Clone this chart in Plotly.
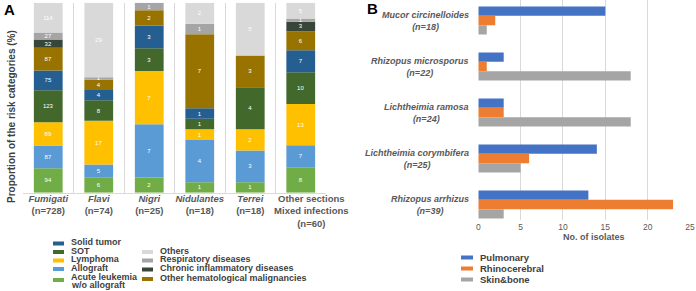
import plotly.graph_objects as go

# ---------------- DATA ----------------
# Panel A: Aspergillus sections and risk categories (counts)
sections = ["Fumigati", "Flavi", "Nigri", "Nidulantes", "Terrei", "Other sections"]
section_n = [728, 74, 25, 18, 18, 60]
section_ticks = [
    "<b><i>Fumigati</i></b><br><b>(n=728)</b>",
    "<b><i>Flavi</i></b><br><b>(n=74)</b>",
    "<b><i>Nigri</i></b><br><b>(n=25)</b>",
    "<b><i>Nidulantes</i></b><br><b>(n=18)</b>",
    "<b><i>Terrei</i></b><br><b>(n=18)</b>",
    "<b>Other sections<br>Mixed infections<br>(n=60)</b>",
]
# stacked bottom -> top
risk_names = [
    "Acute leukemia<br>w/o allograft", "Allograft", "Lymphoma", "SOT", "Solid tumor",
    "Other hematological malignancies", "Chronic inflammatory diseases",
    "Respiratory diseases", "Others",
]
acute_leukemia = [94, 6, 2, 1, 1, 8]
allograft = [87, 5, 7, 4, 3, 7]
lymphoma = [89, 17, 7, 1, 2, 13]
sot = [123, 8, 3, 1, 4, 10]
solid_tumor = [75, 4, 3, 1, 0, 7]
other_hemato = [87, 4, 2, 7, 3, 6]
chronic_inflam = [32, 0, 0, 0, 0, 3]
respiratory = [27, 1, 1, 1, 0, 1]
others = [114, 29, 0, 2, 5, 5]
risk_values = [acute_leukemia, allograft, lymphoma, sot, solid_tumor,
               other_hemato, chronic_inflam, respiratory, others]
risk_colors = ["#70AD47", "#5B9BD5", "#FFC000", "#43682B", "#255E91",
               "#997300", "#38463A", "#A5A5A5", "#D9D9D9"]

# Panel B: Mucorales species and infection sites
species = ["Mucor circinelloides", "Rhizopus microsporus", "Lichtheimia ramosa",
           "Lichtheimia corymbifera", "Rhizopus arrhizus"]
species_n = [18, 22, 24, 25, 39]
site_names = ["Pulmonary", "Rhinocerebral", "Skin&bone"]
pulmonary = [15, 3, 3, 14, 13]
rhinocerebral = [2, 1, 3, 6, 23]
skin_bone = [1, 18, 18, 5, 3]
site_values = [pulmonary, rhinocerebral, skin_bone]
site_colors = ["#4472C4", "#ED7D31", "#A5A5A5"]
b_ticks = [0, 5, 10, 15, 20, 25]

# ---------------- LAYOUT HELPERS ----------------
W, H = 696, 291
FONT = "Liberation Sans, Arial, sans-serif"
GRAY = "#595959"


def fx(p):
    return p / W


def fy(p):
    return 1 - p / H


# the multi-line last tick label sits a little right of its bar in the reference
PAD = "&nbsp;" * 8
tick_text = section_ticks[:-1] + [
    "<br>".join(PAD + line for line in section_ticks[-1].split("<br>"))
]

fig = go.Figure()

# Panel A: stacked percentage bars
cum = [0.0] * len(sections)
for name, vals, color in zip(risk_names, risk_values, risk_colors):
    pct = [v / n * 100 for v, n in zip(vals, section_n)]
    fig.add_trace(go.Bar(
        x=sections, y=pct, base=list(cum), name=name,
        marker=dict(color=color, line=dict(width=0)),
        width=0.57, offsetgroup="A",
        text=[str(v) if v > 0 else "" for v in vals],
        textposition="inside", insidetextanchor="middle", textangle=0,
        constraintext="none",
        textfont=dict(color="white", size=6, family=FONT),
        xaxis="x", yaxis="y", showlegend=False, hoverinfo="skip",
    ))
    cum = [c + p for c, p in zip(cum, pct)]

# Panel B: grouped horizontal bars
for name, vals, color in zip(site_names, site_values, site_colors):
    fig.add_trace(go.Bar(
        y=species, x=vals, name=name, orientation="h",
        marker=dict(color=color, line=dict(width=0)),
        xaxis="x2", yaxis="y2", showlegend=False, hoverinfo="skip",
    ))

annotations = []
shapes = []

# Panel letters
annotations.append(dict(x=fx(2), y=fy(10), xref="paper", yref="paper", xanchor="left",
                        yanchor="middle", showarrow=False,
                        text="<b>A</b>", font=dict(size=15, color="black", family=FONT)))
annotations.append(dict(x=fx(365), y=fy(8), xref="paper", yref="paper", xanchor="left",
                        yanchor="middle", showarrow=False,
                        text="<b>B</b>", font=dict(size=15, color="black", family=FONT)))

# Panel A y-axis title
annotations.append(dict(x=fx(11), y=fy(117), xref="paper", yref="paper", textangle=-90,
                        showarrow=False, xanchor="center", yanchor="middle",
                        text="<b>Proportion of the risk categories (%)</b>",
                        font=dict(size=10, color="#404040", family=FONT)))

# Panel B species labels (right aligned block, centered lines)
for sp, n in zip(species, species_n):
    annotations.append(dict(x=fx(471), y=sp, xref="paper", yref="y2", xanchor="right",
                            yanchor="middle", align="center", showarrow=False,
                            text=f"<b><i>{sp}<br>(n={n})</i></b>",
                            font=dict(size=9, color=GRAY, family=FONT)))

# Panel B x-axis title
annotations.append(dict(x=fx(594), y=fy(237), xref="paper", yref="paper", showarrow=False,
                        xanchor="center", yanchor="middle",
                        text="<b>No. of isolates</b>",
                        font=dict(size=9, color=GRAY, family=FONT)))

# Legend A (two columns) built from the risk category lists
legend_a_left = ["Solid tumor", "SOT", "Lymphoma", "Allograft", "Acute leukemia<br>w/o allograft"]
legend_a_right = ["Others", "Respiratory diseases", "Chronic inflammatory diseases",
                  "Other hematological malignancies"]
left_rows = [242, 250.5, 259, 267.5, 277]
right_rows = [250.5, 259, 268, 277.5]
color_of = dict(zip(risk_names, risk_colors))
for names, rows, sx0, tx in ((legend_a_left, left_rows, 53, 69), (legend_a_right, right_rows, 142, 158)):
    for nm, ry in zip(names, rows):
        sym_y = ry + 1.5 if "<br>" not in nm else ry + 3
        shapes.append(dict(type="rect", xref="paper", yref="paper",
                           x0=fx(sx0), x1=fx(sx0 + 11), y0=fy(sym_y - 2), y1=fy(sym_y + 2),
                           fillcolor=color_of[nm], line=dict(width=0)))
        for k, line in enumerate(nm.split("<br>")):
            annotations.append(dict(x=fx(tx), y=fy(ry + 8 * k), xref="paper", yref="paper",
                                    xanchor="left", yanchor="middle", align="left",
                                    showarrow=False, text=f"<b>{line}</b>",
                                    font=dict(size=9, color="#404040", family=FONT)))

# Legend B
b_rows = [257.5, 268.5, 279.5]
for nm, col, ry in zip(site_names, site_colors, b_rows):
    shapes.append(dict(type="rect", xref="paper", yref="paper",
                       x0=fx(461), x1=fx(473), y0=fy(ry - 2), y1=fy(ry + 2),
                       fillcolor=col, line=dict(width=0)))
    annotations.append(dict(x=fx(478), y=fy(ry), xref="paper", yref="paper",
                            xanchor="left", yanchor="middle", showarrow=False,
                            text=f"<b>{nm}</b>",
                            font=dict(size=9.5, color="#404040", family=FONT)))

fig.update_layout(
    template="none",
    width=W, height=H,
    margin=dict(l=0, r=0, t=0, b=0, pad=0, autoexpand=False),
    paper_bgcolor="white", plot_bgcolor="white",
    barmode="group", bargap=0.39, bargroupgap=0,
    showlegend=False,
    font=dict(family=FONT, color=GRAY),
    xaxis=dict(domain=[fx(23), fx(326)], anchor="y", automargin=False,
               type="category", categoryorder="array", categoryarray=sections,
               tickvals=sections, ticktext=tick_text, tickangle=0,
               ticklabelstandoff=-3,
               tickson="boundaries", showgrid=True, gridcolor="#D9D9D9", gridwidth=1,
               showline=True, linecolor="#D9D9D9", ticks="",
               tickfont=dict(size=9.5, color=GRAY, family=FONT)),
    yaxis=dict(domain=[fy(192.7), fy(2.7)], anchor="x", range=[0, 100], automargin=False,
               showticklabels=False, showgrid=False, zeroline=False, showline=False),
    xaxis2=dict(domain=[fx(478.3), fx(690)], anchor="y2", range=[0, 25], automargin=False,
                tickvals=b_ticks, showgrid=True, gridcolor="#D9D9D9", gridwidth=1,
                zeroline=False, showline=False, ticks="",
                tickfont=dict(size=8.5, color=GRAY, family=FONT)),
    yaxis2=dict(domain=[fy(220), 1], anchor="x2", type="category", automargin=False,
                categoryorder="array", categoryarray=species,
                range=[4.337, -0.446], showticklabels=False, showgrid=False,
                zeroline=False, showline=False),
    annotations=annotations,
    shapes=shapes,
)

fig.write_html(
    "out.html",
    config={"displayModeBar": False},
    post_script="document.body.style.margin='0';document.body.style.overflow='hidden';",
)
